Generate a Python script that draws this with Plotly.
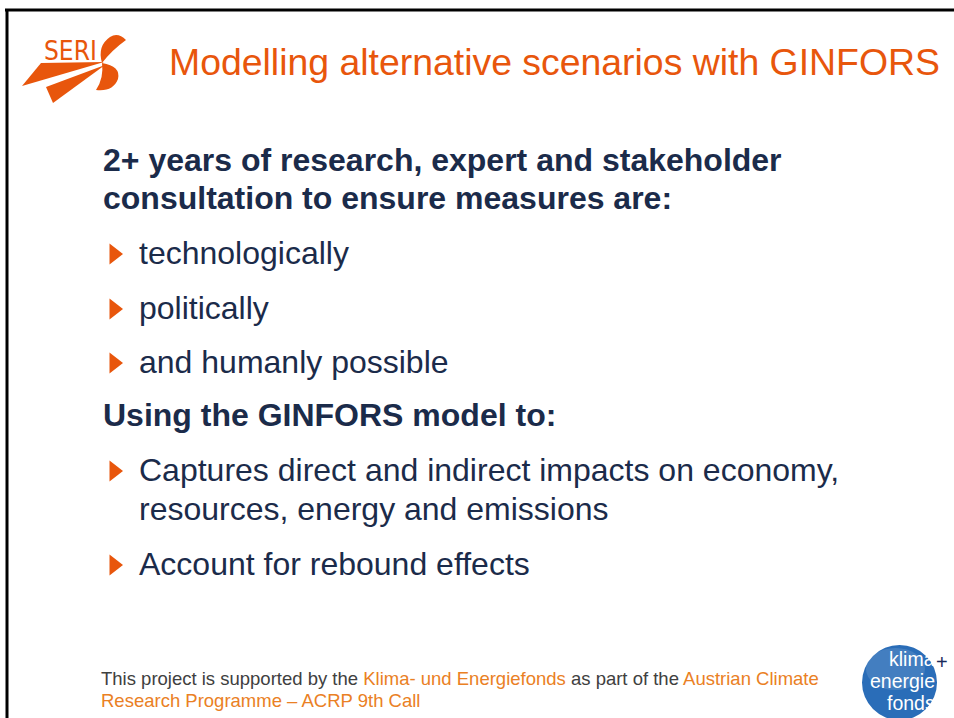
import plotly.graph_objects as go

W, H = 954, 718
FONT = "Liberation Sans, Arial, sans-serif"
ORANGE = "#E8560C"
ORANGE_LIGHT = "#EA8024"
NAVY = "#1B2B4A"
GREY = "#404040"

title_text = "Modelling alternative scenarios with GINFORS"
heading1_lines = ["2+ years of research, expert and stakeholder",
                  "consultation to ensure measures are:"]
bullets1 = ["technologically", "politically", "and humanly possible"]
heading2 = "Using the GINFORS model to:"
bullets2 = [["Captures direct and indirect impacts on economy,",
             "resources, energy and emissions"],
            ["Account for rebound effects"]]
footer_parts = [("This project is supported by the ", GREY),
                ("Klima- und Energiefonds", ORANGE_LIGHT),
                (" as part of the ", GREY),
                ("Austrian Climate", ORANGE_LIGHT)]
footer_line2 = "Research Programme – ACRP 9th Call"
logo_words = ["klima", "energie", "fonds"]

fig = go.Figure()
ann = []
shapes = []

# slide frame
shapes.append(dict(type="line", x0=5, x1=W + 10, y0=10, y1=10, line=dict(color="black", width=3)))
shapes.append(dict(type="line", x0=7, x1=7, y0=10, y1=H + 10, line=dict(color="black", width=3)))

# title
ann.append(dict(x=167, y=62, text=title_text, xanchor="left", yanchor="middle",
                font=dict(family=FONT, size=37.4, color=ORANGE)))

# heading 1
for t, y in zip(heading1_lines, [160, 198]):
    ann.append(dict(x=101, y=y, text="<b>" + t + "</b>", xanchor="left", yanchor="middle",
                    font=dict(family=FONT, size=32, color=NAVY)))

bullet_y = []
for t, y in zip(bullets1, [253, 308, 362]):
    ann.append(dict(x=137, y=y, text=t, xanchor="left", yanchor="middle",
                    font=dict(family=FONT, size=32, color=NAVY)))
    bullet_y.append(y)

ann.append(dict(x=101, y=415, text="<b>" + heading2 + "</b>", xanchor="left", yanchor="middle",
                font=dict(family=FONT, size=32, color=NAVY)))

for lines, y0 in zip(bullets2, [470, 564]):
    for i, t in enumerate(lines):
        ann.append(dict(x=137, y=y0 + i * 39, text=t, xanchor="left", yanchor="middle",
                        font=dict(family=FONT, size=32, color=NAVY)))
    bullet_y.append(y0)

fig.add_trace(go.Scatter(x=[114] * len(bullet_y), y=[y + 1 for y in bullet_y], mode="markers",
                         marker=dict(symbol="triangle-right", size=18, color=ORANGE),
                         hoverinfo="skip", showlegend=False))

# footer
footer_html = "".join(f"<span style='color:{c}'>{t}</span>" for t, c in footer_parts)
ann.append(dict(x=99, y=678, text=footer_html, xanchor="left", yanchor="middle",
                font=dict(family=FONT, size=18.5, color=GREY)))
ann.append(dict(x=99, y=700, text=footer_line2, xanchor="left", yanchor="middle",
                font=dict(family=FONT, size=18.5, color=ORANGE_LIGHT)))

# SERI logo
shapes.append(dict(type="path", path="M 22,86 L 41,63 L 104,62 Z", fillcolor=ORANGE, line=dict(width=0)))
shapes.append(dict(type="path", path="M 46,87 L 53,103 L 105,65 Z", fillcolor=ORANGE, line=dict(width=0)))
shapes.append(dict(type="path", path="M 102,63 Q 97,46 110,37 Q 118,32 126,40 Q 112,50 102,63 Z",
                   fillcolor=ORANGE, line=dict(width=0)))
shapes.append(dict(type="path", path="M 102,63 Q 121,66 118,79 Q 113,92 96,90 Q 104,78 102,63 Z",
                   fillcolor=ORANGE, line=dict(width=0)))
ann.append(dict(x=70, y=51, text="SERI", xanchor="center", yanchor="middle",
                font=dict(family="DejaVu Sans Condensed, " + FONT, size=26, color=ORANGE)))

# klima+energie fonds logo
shapes.append(dict(type="circle", x0=862, x1=937, y0=645, y1=720, fillcolor="#2A6DB8",
                   line=dict(width=0)))
shapes.append(dict(type="circle", x0=866, x1=925, y0=648, y1=690, fillcolor="rgba(255,255,255,0.12)",
                   line=dict(width=0)))
for w, y in zip(logo_words, [659, 681, 703]):
    ann.append(dict(x=937, y=y, text=w, xanchor="right", yanchor="middle",
                    font=dict(family=FONT, size=19.5, color="white")))
ann.append(dict(x=942, y=662, text="+", xanchor="center", yanchor="middle",
                font=dict(family=FONT, size=20, color="#1B2B5A")))

fig.update_layout(width=W, height=H, margin=dict(l=0, r=0, t=0, b=0),
                  paper_bgcolor="white", plot_bgcolor="white",
                  xaxis=dict(range=[0, W], visible=False, fixedrange=True),
                  yaxis=dict(range=[H, 0], visible=False, fixedrange=True),
                  annotations=ann, shapes=shapes, showlegend=False, hovermode=False)
for a in fig.layout.annotations:
    a.showarrow = False
    a.xref = "x"
    a.yref = "y"

fig.write_html("out.html", config={"displayModeBar": False},
               post_script="document.body.style.margin='0px';")
